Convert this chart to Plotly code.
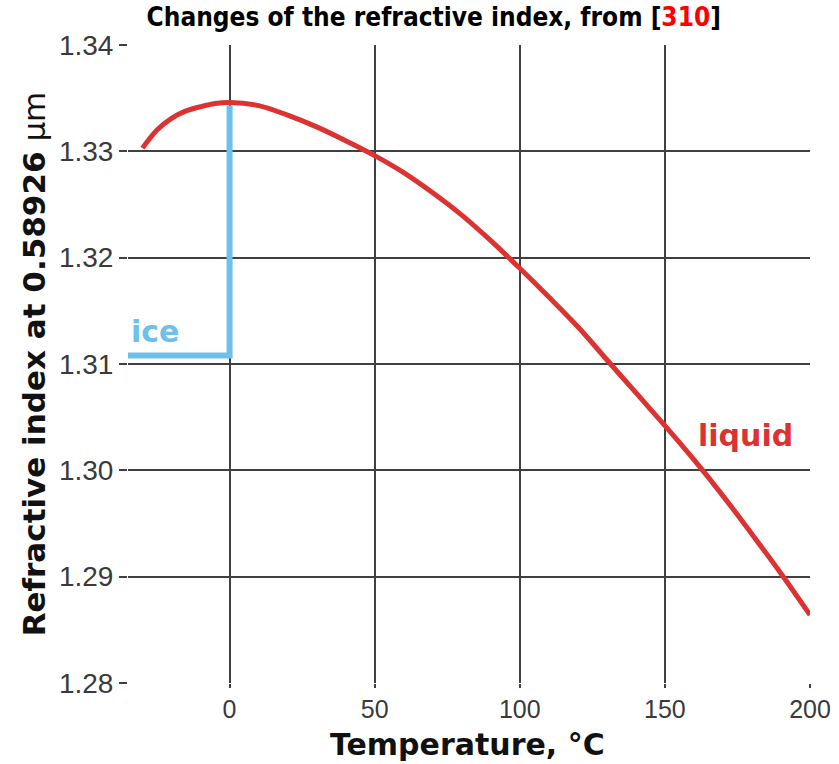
import plotly.graph_objects as go

temps = [-30, -25, -20, -15, -10, -5, 0, 10, 20, 30, 40, 50, 60, 70, 80, 90, 100,
         110, 120, 130, 140, 150, 160, 170, 180, 190, 200]
n_liquid = [1.3303, 1.3320, 1.3331, 1.3338, 1.3342, 1.3345, 1.3346, 1.3343, 1.3334,
            1.3323, 1.3310, 1.3296, 1.3280, 1.3261, 1.3240, 1.3216, 1.3190,
            1.3163, 1.3135, 1.3104, 1.3073, 1.3042, 1.3010, 1.2976, 1.2940,
            1.2903, 1.2864]
ice_x = [-35, 0, 0]
ice_y = [1.3108, 1.3108, 1.3343]
x_ticks = [0, 50, 100, 150, 200]
y_ticks = [1.28, 1.29, 1.30, 1.31, 1.32, 1.33, 1.34]
y_tick_text = ["1.28", "1.29", "1.30", "1.31", "1.32", "1.33", "1.34"]

RED = "#dc3232"
BLUE = "#6cc0ea"

fig = go.Figure()
fig.add_trace(go.Scatter(x=ice_x, y=ice_y, mode="lines",
                         line=dict(color=BLUE, width=6), hoverinfo="skip"))
fig.add_trace(go.Scatter(x=temps, y=n_liquid, mode="lines", line_shape="spline",
                         line=dict(color=RED, width=5), hoverinfo="skip"))

fig.add_annotation(x=-35, y=1.3112, text="<b>ice</b>", showarrow=False,
                   xanchor="left", yanchor="bottom", xshift=1,
                   font=dict(family="DejaVu Sans, sans-serif", size=30, color=BLUE))
fig.add_annotation(x=161, y=1.3033, text="<b>liquid</b>", showarrow=False,
                   xanchor="left", yanchor="middle", xshift=-1,
                   font=dict(family="DejaVu Sans, sans-serif", size=30, color=RED))
# x-axis title placed as annotation below the tick labels
fig.add_annotation(x=0.4985, y=-0.096, xref="paper", yref="paper",
                   text="<b>Temperature, °C</b>", showarrow=False,
                   xanchor="center", yanchor="middle",
                   font=dict(family="DejaVu Sans, sans-serif", size=30, color="#111"))

fig.update_layout(
    width=839, height=764,
    margin=dict(l=128, r=29, t=45, b=81),
    paper_bgcolor="white", plot_bgcolor="white",
    showlegend=False,
    title=dict(text="<b>Changes of the refractive index, from [<span style='color:#ff0000'>310</span>]</b>",
               x=0.517, xanchor="center", y=0.978, yanchor="middle",
               font=dict(family="DejaVu Sans Condensed, DejaVu Sans, sans-serif", size=26, color="black")),
)
fig.update_xaxes(range=[-35, 200], tickvals=x_ticks, showgrid=True, automargin=False,
                 gridcolor="#404040", gridwidth=1.7, zeroline=False,
                 ticks="outside", ticklen=4, tickcolor="#404040", tickwidth=1.7,
                 showline=False,
                 tickfont=dict(family="Liberation Sans, Arial, sans-serif", size=25, color="#3a3a3a"))
fig.update_yaxes(range=[1.28, 1.34], tickvals=y_ticks, ticktext=y_tick_text, showgrid=True,
                 automargin=False,
                 gridcolor="#404040", gridwidth=1.7, zeroline=False,
                 ticks="outside", ticklen=8, tickcolor="#404040", tickwidth=1.7,
                 showline=False,
                 tickfont=dict(family="Liberation Sans, Arial, sans-serif", size=28, color="#3a3a3a"),
                 title=dict(text="<b>Refractive index at 0.58926</b> μm", standoff=4,
                            font=dict(family="DejaVu Sans, sans-serif", size=31, color="#111")))

fig.write_html("out.html")
